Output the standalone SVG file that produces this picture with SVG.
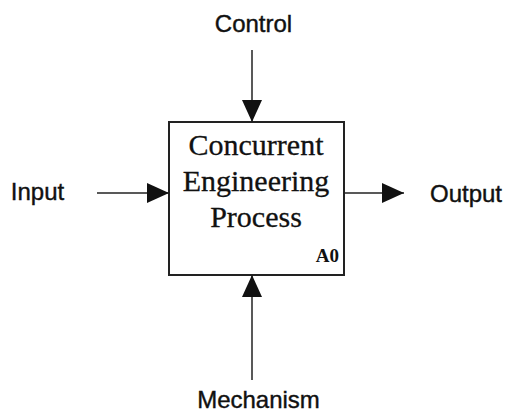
<svg xmlns="http://www.w3.org/2000/svg" width="507" height="413" viewBox="0 0 507 413">
  <style>
    .label { font-family: "Liberation Sans", Arial, sans-serif; font-size: 24px; fill: #111; stroke: #111; stroke-width: 0.4; text-anchor: middle; }
    .title { font-family: "Liberation Serif", "Times New Roman", serif; font-size: 30px; fill: #111; stroke: #111; stroke-width: 0.3; text-anchor: middle; }
    .code { font-family: "Liberation Serif", "Times New Roman", serif; font-size: 19px; font-weight: bold; fill: #111; text-anchor: end; }
    .box { fill: #fff; stroke: #222; stroke-width: 2; }
    .flow { stroke: #222; stroke-width: 1.5; fill: none; marker-end: url(#head); }
  </style>
  <defs>
    <marker id="head" viewBox="0 0 22 20" refX="22" refY="10" markerWidth="22" markerHeight="20" markerUnits="userSpaceOnUse" orient="auto">
      <path d="M0,0 L22,10 L0,20 Z" fill="#111"/>
    </marker>
  </defs>
  <rect width="507" height="413" fill="#fff"/>

  <!-- function box A0 -->
  <g id="process">
    <rect class="box" x="169" y="122" width="175" height="153"/>
    <text class="title" x="256" y="155">Concurrent</text>
    <text class="title" x="256" y="191">Engineering</text>
    <text class="title" x="256" y="227">Process</text>
    <text class="code" x="339" y="262">A0</text>
  </g>

  <!-- ICOM labels -->
  <g id="control"><text class="label" x="253.5" y="32">Control</text></g>
  <g id="input"><text class="label" x="37.5" y="200">Input</text></g>
  <g id="output"><text class="label" x="466" y="202">Output</text></g>
  <g id="mechanism"><text class="label" x="258.5" y="408">Mechanism</text></g>

  <!-- arrows -->
  <g id="connectors">
    <line class="flow" x1="252" y1="50" x2="252" y2="122"/>
    <line class="flow" x1="97" y1="193" x2="169" y2="193"/>
    <line class="flow" x1="344" y1="193" x2="404" y2="193"/>
    <line class="flow" x1="252" y1="380" x2="252" y2="275"/>
  </g>
</svg>
